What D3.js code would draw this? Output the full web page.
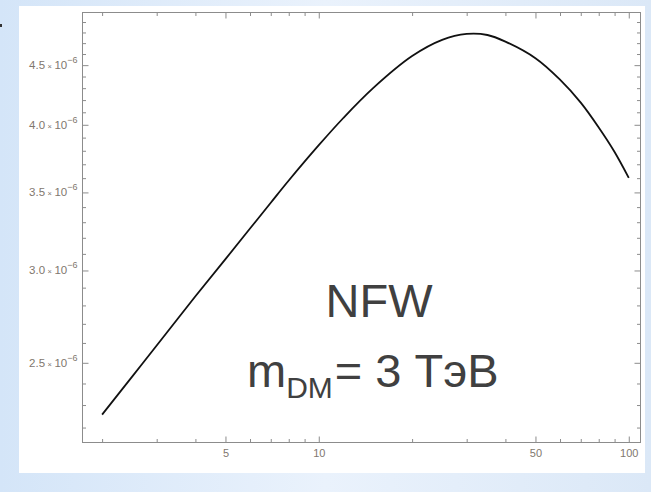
<!DOCTYPE html>
<html>
<head>
<meta charset="utf-8">
<script src="https://cdn.jsdelivr.net/npm/d3@7"></script>
<style>
  html, body { margin: 0; padding: 0; background: #e4eefa; }
  svg { display: block; }
</style>
</head>
<body>
<svg id="chart" width="651" height="492"></svg>
<script>
// ---- data ----
const xValues = [2, 2.5, 3, 4, 5, 6, 7, 8, 10, 12, 15, 20, 25, 30, 35, 40, 50, 60, 70, 80, 90, 100];
const yValues = [2.257e-6, 2.433e-6, 2.587e-6, 2.851e-6, 3.068e-6, 3.259e-6, 3.429e-6, 3.583e-6,
                 3.842e-6, 4.054e-6, 4.302e-6, 4.581e-6, 4.730e-6, 4.786e-6, 4.776e-6, 4.714e-6,
                 4.562e-6, 4.373e-6, 4.179e-6, 3.979e-6, 3.791e-6, 3.602e-6];
const xMajorTicks = [5, 10, 50, 100];
const xMinorTicks = [2, 3, 4, 6, 7, 8, 9, 20, 30, 40, 60, 70, 80, 90];
const yMajorTicks = [2.5e-6, 3.0e-6, 3.5e-6, 4.0e-6, 4.5e-6];
const yMajorLabels = ["2.5", "3.0", "3.5", "4.0", "4.5"];
const yExponent = "−6";
const yMinorTicks = [2.2, 2.3, 2.4, 2.6, 2.7, 2.8, 2.9, 3.1, 3.2, 3.3, 3.4, 3.6, 3.7, 3.8, 3.9,
                     4.1, 4.2, 4.3, 4.4, 4.6, 4.7, 4.8, 4.9].map(v => v * 1e-6);
const titleLine1 = "NFW";
const titleMass = "m", titleSub = "DM", titleRest = "= 3 ТэВ";

const data = xValues.map((x, i) => ({ x, y: yValues[i] }));

// ---- layout ----
const svg = d3.select("#chart");
const W = 651, H = 492;
const L = 82.5, R = 640.5, T = 12.5, B = 442.5;
const tickColor = "#8c8c8c";
const labelColor = "#7f776e";

// background
const defs = svg.append("defs");
const g1 = defs.append("linearGradient").attr("id", "bg").attr("x1", 0).attr("x2", 1).attr("y1", 0).attr("y2", 0);
g1.append("stop").attr("offset", "0%").attr("stop-color", "#d4e5f8");
g1.append("stop").attr("offset", "50%").attr("stop-color", "#eaf2fc");
g1.append("stop").attr("offset", "100%").attr("stop-color", "#dbe8f7");
svg.append("rect").attr("width", W).attr("height", H).attr("fill", "url(#bg)");
svg.append("rect").attr("x", 19).attr("y", 6).attr("width", 626).attr("height", 467).attr("fill", "#ffffff");
svg.append("rect").attr("x", 0).attr("y", 24).attr("width", 2).attr("height", 3).attr("fill", "#333");

// scales
const x = d3.scaleLog().domain([1.729, 109.1]).range([L, R]);
const y = d3.scaleLog().domain([2.136e-6, 4.993e-6]).range([B, T]);

function styleAxis(sel) {
  sel.select(".domain").remove();
  sel.selectAll(".tick line").attr("stroke", tickColor).attr("stroke-width", 1);
}

// bottom axis
const gb = svg.append("g").attr("transform", `translate(0,${B})`);
gb.call(d3.axisBottom(x).tickValues(xMajorTicks).tickFormat(d3.format("d")).tickSize(-6).tickSizeOuter(0).tickPadding(7));
styleAxis(gb);
gb.selectAll(".tick text").attr("fill", labelColor).attr("font-family", "Liberation Sans, Arial, sans-serif").attr("font-size", 11);
const gbm = svg.append("g").attr("transform", `translate(0,${B})`);
gbm.call(d3.axisBottom(x).tickValues(xMinorTicks).tickFormat("").tickSize(-3.5).tickSizeOuter(0));
styleAxis(gbm);

// top axis
const gt = svg.append("g").attr("transform", `translate(0,${T})`);
gt.call(d3.axisTop(x).tickValues(xMajorTicks).tickFormat("").tickSize(-6).tickSizeOuter(0));
styleAxis(gt);
const gtm = svg.append("g").attr("transform", `translate(0,${T})`);
gtm.call(d3.axisTop(x).tickValues(xMinorTicks).tickFormat("").tickSize(-3.5).tickSizeOuter(0));
styleAxis(gtm);

// left axis
const gl = svg.append("g").attr("transform", `translate(${L},0)`);
gl.call(d3.axisLeft(y).tickValues(yMajorTicks).tickFormat("").tickSize(-6).tickSizeOuter(0));
styleAxis(gl);
const glm = svg.append("g").attr("transform", `translate(${L},0)`);
glm.call(d3.axisLeft(y).tickValues(yMinorTicks).tickFormat("").tickSize(-3.5).tickSizeOuter(0));
styleAxis(glm);

// right axis
const gr = svg.append("g").attr("transform", `translate(${R},0)`);
gr.call(d3.axisRight(y).tickValues(yMajorTicks).tickFormat("").tickSize(-6).tickSizeOuter(0));
styleAxis(gr);
const grm = svg.append("g").attr("transform", `translate(${R},0)`);
grm.call(d3.axisRight(y).tickValues(yMinorTicks).tickFormat("").tickSize(-3.5).tickSizeOuter(0));
styleAxis(grm);

// y labels with superscript
const yl = svg.append("g").attr("font-family", "Liberation Sans, Arial, sans-serif").attr("fill", labelColor);
yMajorTicks.forEach((v, i) => {
  const t = yl.append("text").attr("x", L - 5).attr("y", y(v) + 4).attr("text-anchor", "end").attr("font-size", 11.5);
  t.append("tspan").text(yMajorLabels[i]);
  t.append("tspan").attr("font-size", 7.5).attr("dx", 2.5).text("×");
  t.append("tspan").attr("dx", 2.5).text("10");
  t.append("tspan").attr("font-size", 9).attr("dy", -6).text(yExponent);
});

// frame
svg.append("rect").attr("x", L).attr("y", T).attr("width", R - L).attr("height", B - T)
  .attr("fill", "none").attr("stroke", tickColor).attr("stroke-width", 1);

// curve
const line = d3.line().x(d => x(d.x)).y(d => y(d.y)).curve(d3.curveCatmullRom.alpha(0.5));
svg.append("path").datum(data).attr("d", line).attr("fill", "none")
  .attr("stroke", "#111").attr("stroke-width", 1.8);

// annotation
const ann = svg.append("g").attr("font-family", "Liberation Sans, Arial, sans-serif").attr("fill", "#404040");
ann.append("text").attr("x", 379).attr("y", 317).attr("text-anchor", "middle").attr("font-size", 47).text(titleLine1);
const t2 = ann.append("text").attr("x", 247).attr("y", 387).attr("font-size", 47);
t2.append("tspan").text(titleMass);
t2.append("tspan").attr("font-size", 30).attr("dy", 11).text(titleSub);
t2.append("tspan").attr("dy", -11).attr("dx", 2).text(titleRest);
</script>
</body>
</html>
